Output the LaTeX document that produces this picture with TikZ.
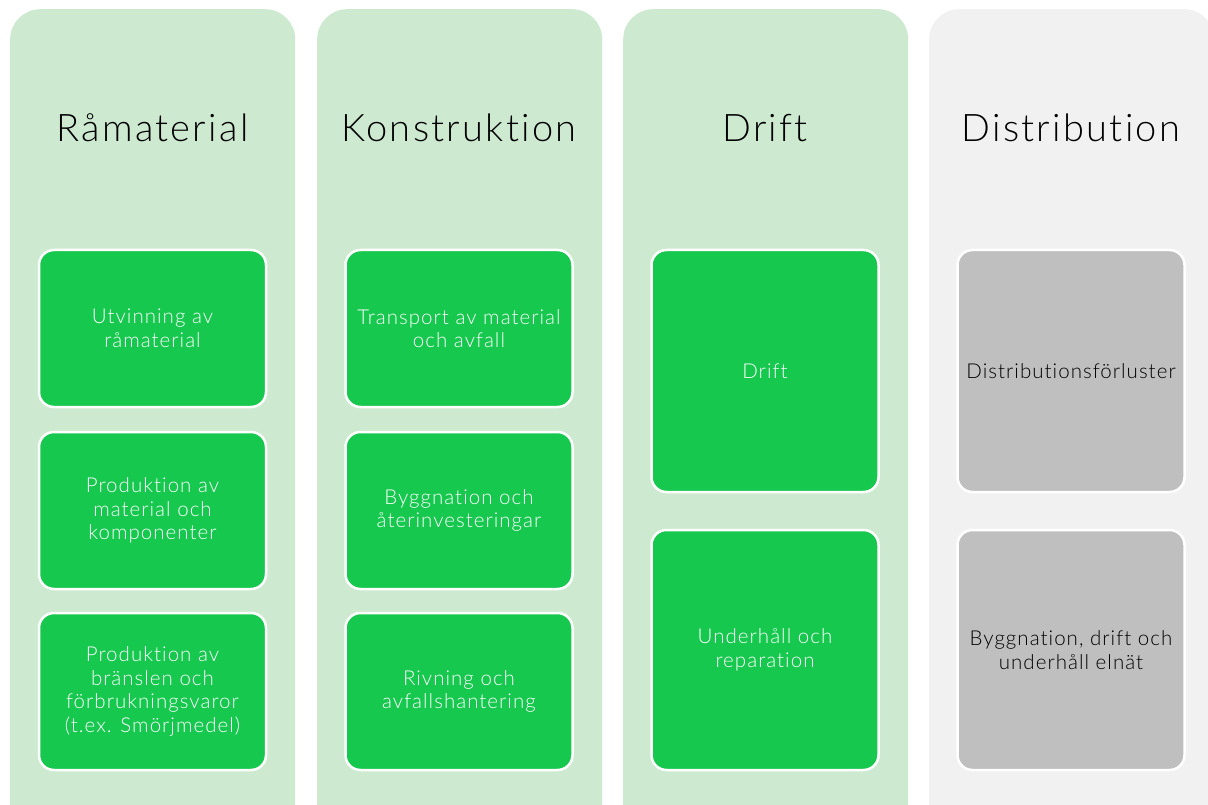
\documentclass[tikz,border=0pt]{standalone}
\usepackage{fontspec}
\setmainfont{Lato}[UprightFont={* Light}, Ligatures=NoCommon]
\newfontfamily\titlefont{Lato}[UprightFont={* Light}, LetterSpace=6, Ligatures=NoCommon]
\newfontfamily\cardfont{Lato}[UprightFont={* Light}, LetterSpace=5, Ligatures=NoCommon]
\definecolor{colgreen}{HTML}{CDEAD1}
\definecolor{colgrey}{HTML}{F1F1F1}
\definecolor{boxgreen}{HTML}{17C84F}
\definecolor{boxgrey}{HTML}{BFBFBF}
\tikzset{
  column/.style={rounded corners=30pt, minimum width=285pt, minimum height=860pt, inner sep=0pt, draw=none},
  title/.style={font=\titlefont\fontsize{38}{40}\selectfont, text=black, inner sep=0pt},
  card/.style={rounded corners=15pt, draw=white, line width=2.5pt, minimum width=227pt, inner sep=0pt, align=center, font=\cardfont\fontsize{20.5}{23.5}\selectfont},
  gcard/.style={card, fill=boxgreen, text=white},
  ycard/.style={card, fill=boxgrey, text=black},
}
\begin{document}
\begin{tikzpicture}[x=1pt,y=-1pt]
\useasboundingbox (0,0) rectangle (1208,805);
\clip (0,0) rectangle (1208,805);
\fill[white] (0,0) rectangle (1208,805);
% columns
\node[column, fill=colgreen, anchor=north west] (c1) at (10,9) {};
\node[column, fill=colgreen, anchor=north west] (c2) at (317,9) {};
\node[column, fill=colgreen, anchor=north west] (c3) at (623,9) {};
\node[column, fill=colgrey, anchor=north west] (c4) at (929,9) {};
% titles
\node[title] (t1) at (152.5,128) {Råmaterial};
\node[title] (t2) at (459,128) {Konstruktion};
\node[title] (t3) at (765,128) {Drift};
\node[title] (t4) at (1071,128) {Distribution};
% column 1
\node[gcard, minimum height=157pt] (a1) at (152.5,328.5) {Utvinning av\\råmaterial};
\node[gcard, minimum height=157pt] (a2) at (152.5,510.5) {Produktion av\\material och\\komponenter};
\node[gcard, minimum height=157pt] (a3) at (152.5,691.5) {Produktion av\\bränslen och\\förbrukningsvaror\\(t.ex. Smörjmedel)};
% column 2
\node[gcard, minimum height=157pt] (b1) at (459,328.5) {Transport av material\\och avfall};
\node[gcard, minimum height=157pt] (b2) at (459,510.5) {Byggnation och\\återinvesteringar};
\node[gcard, minimum height=157pt] (b3) at (459,691.5) {Rivning och\\avfallshantering};
% column 3
\node[gcard, minimum height=242pt] (d1) at (765,371) {Drift};
\node[gcard, minimum height=240pt] (d2) at (765,650) {Underhåll och\\reparation};
% column 4
\node[ycard, minimum height=242pt] (e1) at (1071,371) {Distributionsförluster};
\node[ycard, minimum height=240pt] (e2) at (1071,650) {Byggnation, drift och\\underhåll elnät};
\end{tikzpicture}
\end{document}
